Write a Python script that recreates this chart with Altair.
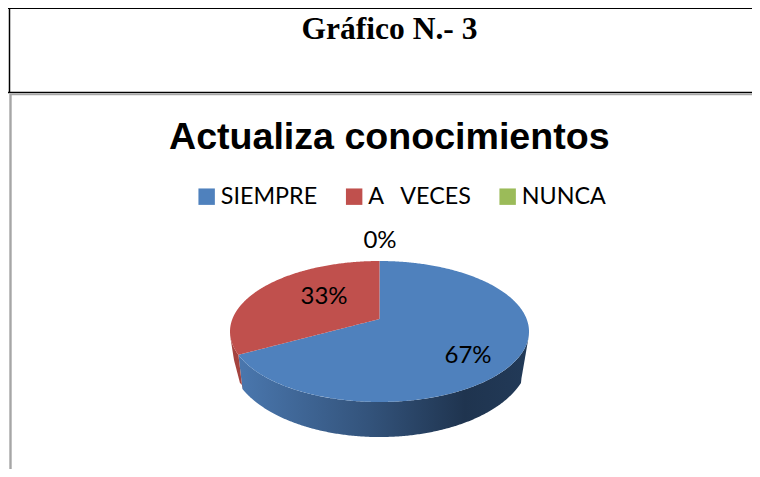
import numpy as np
import pandas as pd
import altair as alt

categories = ["SIEMPRE", "A\u00a0\u00a0\u00a0VECES", "NUNCA"]
shares = [67, 33, 0]
labels = ["67%", "33%", "0%"]
colors = ["#4f81bd", "#c0504d", "#9bbb59"]

W, H = 744, 461
# pixels per data unit: the pie's top face is the unit circle, flattened by the y scale
PX, PY = 149.5, 70.5
PCX, PCY = 379.5, 331.5
CX, CY = PCX - 8, PCY - 8
x_dom = [-CX / PX, (W - CX) / PX]
y_dom = [(CY - H) / PY, CY / PY]
x_s = alt.X("x:Q", scale=alt.Scale(domain=x_dom, nice=False, zero=False), axis=None)
y_s = alt.Y("y:Q", scale=alt.Scale(domain=y_dom, nice=False, zero=False), axis=None)

to_x = lambda v: (np.asarray(v, dtype=float) - PCX) / PX
to_y = lambda v: (PCY - np.asarray(v, dtype=float)) / PY

# perspective of the pie
TILT = 9.5          # degrees the cut is rotated by the view
APEX = 0.177        # height of the slices' common point on the top face
B_CY, B_RY = -0.362, 1.135   # bottom rim ellipse
cut_angle = np.radians(shares[0] / sum(shares) * 360 + TILT)
bx, by = np.sin(cut_angle), np.cos(cut_angle)
fx = bx + 0.027                # where the cut's vertical edge lands on the bottom rim

up = lambda x: np.sqrt(np.clip(1 - x * x, 0, 1))
low = lambda x: -up(x)
lerp = lambda x, x0, y0, x1, y1: y0 + (y1 - y0) * (x - x0) / (x1 - x0)
left_x, left_y = to_x([229.5, 234, 240, 243]), to_y([332, 360, 383, 386])
right_x, right_y = to_x([521, 529.5]), to_y([381, 332])


def bot(x):
    b = B_CY - B_RY * up(x)
    b = np.where(x > right_x[0], np.maximum(b, np.interp(x, right_x, right_y)), b)
    return b


fy = float(bot(np.array([fx]))[0])


def samples(a, b, n=160):
    t = np.linspace(0, np.pi, n)
    return a + (b - a) * (1 - np.cos(t)) / 2


# top faces
xb = np.concatenate([samples(bx, 0), samples(0, 1)[1:]])
blue_top = pd.DataFrame({
    "x": xb,
    "y": np.where(xb < 0, lerp(xb, bx, by, 0, APEX), up(xb)),
    "y2": low(xb),
    "cat": categories[0],
})
xr = np.concatenate([samples(-1, bx), samples(bx, 0)[1:]])
red_top = pd.DataFrame({
    "x": xr,
    "y": up(xr),
    "y2": np.where(xr < bx, low(xr), lerp(xr, bx, by, 0, APEX)),
    "cat": categories[1],
})
faces = pd.concat([blue_top, red_top])

# walls
xw = np.concatenate([samples(bx, fx, 12), samples(fx, 1, 300)[1:]])
blue_wall = pd.DataFrame({
    "x": xw,
    "y": low(xw),
    "y2": np.where(xw < fx, lerp(xw, bx, by, fx, fy), bot(xw)),
})
xl = np.concatenate([samples(-1, bx, 30), samples(bx, fx, 8)[1:]])
red_wall = pd.DataFrame({
    "x": xl,
    "y": np.where(xl < bx, low(xl), lerp(xl, bx, by, fx, fy)),
    "y2": np.interp(xl, left_x, left_y),
})

label_df = pd.DataFrame({
    "x": to_x([468, 324, 380]),
    "y": to_y([356, 297, 241]),
    "t": labels,
})

blue_grad = alt.Gradient(
    gradient="linear", x1=0, x2=1, y1=0, y2=0,
    stops=[
        alt.GradientStop(offset=0, color="#4a77ae"),
        alt.GradientStop(offset=0.45, color="#33537b"),
        alt.GradientStop(offset=0.78, color="#1f344f"),
        alt.GradientStop(offset=1, color="#223a58"),
    ],
)

wall1 = alt.Chart(blue_wall).mark_area(color=blue_grad, orient="vertical").encode(
    x=x_s, y=y_s, y2="y2:Q")
wall2 = alt.Chart(red_wall).mark_area(color="#a4433f", orient="vertical").encode(
    x=x_s, y=y_s, y2="y2:Q")
top = alt.Chart(faces).mark_area(orient="vertical").encode(
    x=x_s, y=y_s, y2="y2:Q",
    color=alt.Color(
        "cat:N",
        scale=alt.Scale(domain=categories, range=colors),
        legend=alt.Legend(
            title=None, orient="none", direction="horizontal",
            legendX=187, legendY=177, symbolType="square", symbolSize=270,
            symbolStrokeWidth=0, labelFont="Lato", labelFontSize=23.3,
            labelColor="#000000", columnPadding=24.5, labelOffset=2.5,
            labelLimit=300,
        ),
    ),
)
txt = alt.Chart(label_df).mark_text(font="Lato", fontSize=24, color="#000000").encode(
    x=x_s, y=y_s, text="t:N")

heading = alt.Chart(pd.DataFrame({"t": ["Gráfico N.- 3"]})).mark_text(
    font="Liberation Serif", fontWeight="bold", fontSize=31.5, color="#000000"
).encode(x=alt.value(381.5), y=alt.value(22), text="t:N")

rule = lambda x, x2, y, y2, c, w: alt.Chart(pd.DataFrame({"a": [0]})).mark_rule(
    color=c, strokeWidth=w
).encode(x=alt.value(x), x2=alt.value(x2), y=alt.value(y), y2=alt.value(y2))

frame = [
    rule(0, W, 0.5, 0.5, "#000000", 1.2),
    rule(1.5, 1.5, 0, 85, "#000000", 1.5),
    rule(0, W, 84.5, 84.5, "#000000", 1.6),
    rule(2, W, 86.5, 86.5, "#a6a6a6", 1.4),
    rule(2.5, 2.5, 86, H, "#a6a6a6", 2.4),
]

chart = alt.layer(*frame, wall1, wall2, top, txt, heading).properties(
    width=W, height=H,
    padding=0,
    autosize=alt.AutoSizeParams(type="none"),
    background="#ffffff",
    title=alt.TitleParams(
        "Actualiza conocimientos", anchor="start", frame="group",
        font="Liberation Sans", fontWeight="bold", fontSize=37.6,
        color="#000000", dx=161, dy=179, baseline="alphabetic", offset=0,
    ),
).configure_view(stroke=None)

chart.save("out.html", embed_options={"renderer": "svg", "actions": False})
